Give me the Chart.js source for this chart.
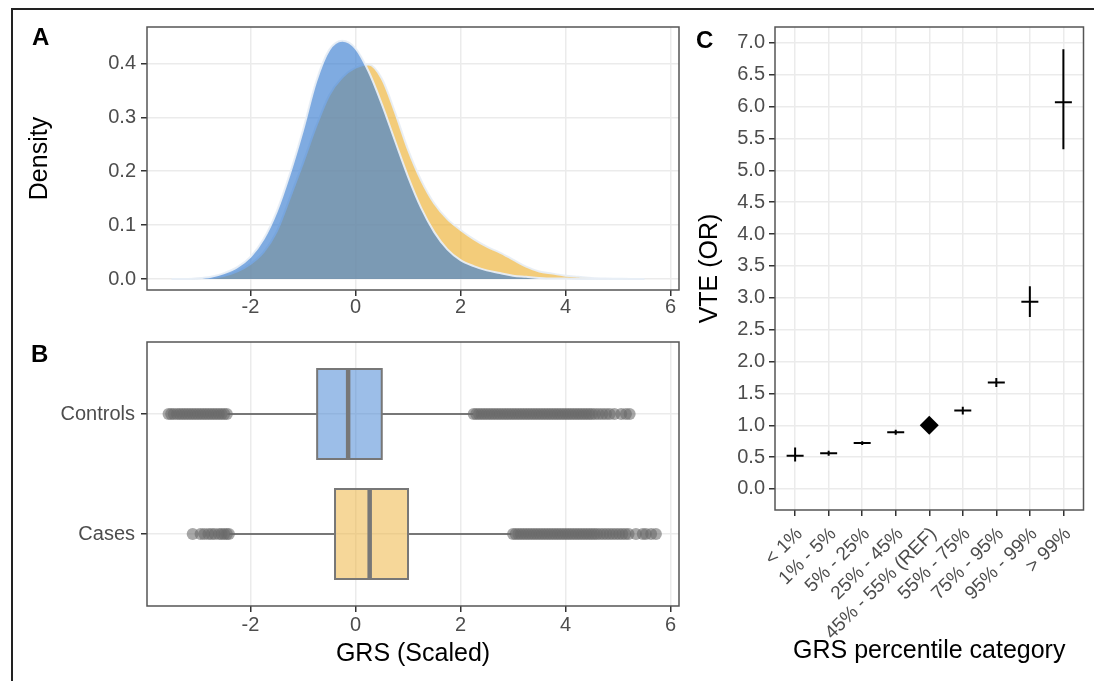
<!DOCTYPE html>
<html>
<head>
<meta charset="utf-8">
<title>GRS and VTE</title>
<script src="https://cdn.jsdelivr.net/npm/chart.js@4.4.1/dist/chart.umd.min.js"></script>
<style>
  body { margin: 0; background: #fff; }
  #fig { position: relative; width: 1094px; height: 681px; overflow: hidden; background: #fff; font-family: "Liberation Sans", Arial, sans-serif; }
  #fig canvas { position: absolute; left: 0; top: 0; }
  .frame { position: absolute; left: 11px; top: 8px; width: 1100px; height: 700px; border-top: 2px solid #222; border-left: 2px solid #222; }
  .tag { position: absolute; font-size: 24px; line-height: 24px; font-weight: bold; color: #000; }
</style>
</head>
<body>
<div id="fig">
  <div class="frame"></div>
  <canvas id="densityChart" width="1094" height="681"></canvas>
  <canvas id="boxChart" width="1094" height="681"></canvas>
  <canvas id="orChart" width="1094" height="681"></canvas>
  <div class="tag" style="left:32px;top:25px">A</div>
  <div class="tag" style="left:31px;top:342px">B</div>
  <div class="tag" style="left:696px;top:28px">C</div>
</div>
<script>
// panel A: density of the scaled GRS
const grsX = [-3.5, -3.25, -3, -2.75, -2.5, -2.25, -2, -1.75, -1.5, -1.25, -1, -0.75, -0.5, -0.25, 0,
  0.25, 0.5, 0.75, 1, 1.25, 1.5, 1.75, 2, 2.25, 2.5, 2.75, 3, 3.25, 3.5, 3.75, 4, 4.25, 4.5, 4.75, 5, 5.25, 5.5];
const controlsDensity = [0, 0, 0.001, 0.004, 0.011, 0.022, 0.041, 0.074, 0.125, 0.195, 0.276, 0.366, 0.425, 0.442, 0.428,
  0.385, 0.325, 0.257, 0.19, 0.132, 0.087, 0.055, 0.035, 0.024, 0.016, 0.011, 0.006, 0.004, 0.002, 0.001, 0.001, 0, 0, 0, 0, 0, 0];
const casesDensity = [0, 0, 0.001, 0.002, 0.006, 0.014, 0.028, 0.05, 0.088, 0.15, 0.215, 0.283, 0.341, 0.374, 0.392,
  0.398, 0.372, 0.31, 0.24, 0.183, 0.14, 0.111, 0.091, 0.074, 0.06, 0.049, 0.036, 0.023, 0.014, 0.01, 0.006, 0.004, 0.002, 0.001, 0.0005, 0, 0];

// panel B: boxplots (Cases on row 1, Controls on row 2)
const groups = ['Cases', 'Controls'];
const boxQ1 = [-0.39, -0.73];
const boxMedian = [0.27, -0.14];
const boxQ3 = [1.0, 0.5];
const whiskerLow = [-2.4, -2.44];
const whiskerHigh = [2.97, 2.24];
const casesOutliers = [-3.1, -2.95, -2.88, -2.8, -2.74, -2.68, -2.6, -2.55, -2.5, -2.45, -2.41,
  3.0, 3.05, 3.1, 3.15, 3.2, 3.25, 3.3, 3.35, 3.4, 3.45, 3.5, 3.55, 3.6, 3.65, 3.7, 3.75, 3.8, 3.85, 3.9, 3.95,
  4.0, 4.05, 4.1, 4.15, 4.2, 4.25, 4.3, 4.35, 4.4, 4.45, 4.5, 4.55, 4.6, 4.66, 4.72, 4.78, 4.84, 4.9, 4.96,
  5.02, 5.08, 5.14, 5.2, 5.34, 5.47, 5.53, 5.63, 5.72];
const controlsOutliers = [-3.56, -3.51, -3.46, -3.4, -3.35, -3.3, -3.25, -3.2, -3.15, -3.1, -3.05, -3.0, -2.95,
  -2.9, -2.85, -2.8, -2.75, -2.7, -2.65, -2.6, -2.55, -2.5, -2.45,
  2.25, 2.3, 2.35, 2.4, 2.45, 2.5, 2.55, 2.6, 2.65, 2.7, 2.75, 2.8, 2.85, 2.9, 2.95, 3.0, 3.05, 3.1, 3.15, 3.2,
  3.25, 3.3, 3.35, 3.4, 3.45, 3.5, 3.55, 3.6, 3.65, 3.7, 3.75, 3.8, 3.85, 3.9, 3.95, 4.0, 4.05, 4.1, 4.15, 4.2,
  4.25, 4.3, 4.35, 4.4, 4.45, 4.5, 4.56, 4.63, 4.7, 4.77, 4.84, 4.93, 5.06, 5.15, 5.22];

// panel C: odds ratios by GRS percentile
const percentileCats = ['< 1%', '1% - 5%', '5% - 25%', '25% - 45%', '45% - 55% (REF)', '55% - 75%', '75% - 95%', '95% - 99%', '> 99%'];
const orEstimate = [0.52, 0.56, 0.72, 0.89, 1.0, 1.23, 1.67, 2.94, 6.07];
const orLower = [0.43, 0.52, 0.69, 0.85, null, 1.17, 1.6, 2.7, 5.33];
const orUpper = [0.65, 0.6, 0.75, 0.93, null, 1.29, 1.74, 3.18, 6.9];
const refIndex = 4;

const BLUE = 'rgba(60,128,210,0.66)';
const ORANGE = 'rgba(237,177,53,0.66)';
const BOX_FILL = ['rgba(237,176,51,0.5)', 'rgba(57,125,209,0.5)'];
const BOX_HALF = 0.375;
const GRAY = '#777';
const FONT = '"Liberation Sans", Arial, sans-serif';

Chart.defaults.font.family = FONT;
Chart.defaults.animation = false;
Chart.defaults.responsive = false;
Chart.defaults.plugins.legend.display = false;
Chart.defaults.plugins.tooltip.enabled = false;

const panelBorder = {
  id: 'panelBorder',
  afterDraw(chart) {
    const { ctx, chartArea: a } = chart;
    ctx.save();
    ctx.strokeStyle = '#555';
    ctx.lineWidth = 1.5;
    ctx.strokeRect(a.left, a.top, a.right - a.left, a.bottom - a.top);
    ctx.restore();
  }
};

const grid = () => ({ color: '#ebebeb', lineWidth: 1.5, tickLength: 6, tickColor: '#333', tickWidth: 1.5 });
const tickStyle = (extra) => Object.assign({ color: '#4d4d4d', font: { size: 20 } }, extra);
const titleStyle = (text, padding) => ({ display: true, text, color: '#000', font: { size: 25 }, padding });

// A
new Chart(document.getElementById('densityChart'), {
  type: 'line',
  data: {
    datasets: [
      {
        label: 'Controls',
        data: grsX.map((x, i) => ({ x, y: controlsDensity[i] })),
        fill: 'origin', backgroundColor: BLUE,
        borderColor: 'rgba(232,238,245,0.95)', borderWidth: 2,
        pointRadius: 0, cubicInterpolationMode: 'monotone'
      },
      {
        label: 'Cases',
        data: grsX.map((x, i) => ({ x, y: casesDensity[i] })),
        fill: 'origin', backgroundColor: ORANGE,
        borderColor: 'rgba(232,238,245,0.95)', borderWidth: 2,
        pointRadius: 0, cubicInterpolationMode: 'monotone'
      }
    ]
  },
  options: {
    layout: { padding: { left: 14, top: 27, right: 1094 - 679, bottom: 681 - 290 - 40 } },
    scales: {
      x: {
        type: 'linear', min: -3.97, max: 6.16,
        border: { display: false }, grid: grid(),
        ticks: tickStyle({ stepSize: 2, includeBounds: false, padding: -1 }),
        afterFit: s => { s.height = 40; }
      },
      y: {
        type: 'linear', min: -0.0204, max: 0.4675,
        border: { display: false }, grid: grid(),
        ticks: tickStyle({ stepSize: 0.1, includeBounds: false, padding: 5, callback: v => v.toFixed(1) }),
        title: titleStyle('Density', { top: 11, bottom: 0 }),
        afterFit: s => { s.width = 147 - 14; }
      }
    }
  },
  plugins: [panelBorder]
});

// B
const boxDraw = {
  id: 'boxDraw',
  afterDatasetsDraw(chart) {
    const { ctx, scales: { x, y } } = chart;
    ctx.save();
    groups.forEach((g, i) => {
      const top = y.getPixelForValue(i + 1 + BOX_HALF);
      const bot = y.getPixelForValue(i + 1 - BOX_HALF);
      const l = x.getPixelForValue(boxQ1[i]);
      const r = x.getPixelForValue(boxQ3[i]);
      ctx.fillStyle = BOX_FILL[i];
      ctx.fillRect(l, top, r - l, bot - top);
      ctx.strokeStyle = GRAY;
      ctx.lineWidth = 2;
      ctx.strokeRect(l, top, r - l, bot - top);
      const m = x.getPixelForValue(boxMedian[i]);
      ctx.lineWidth = 4.5;
      ctx.beginPath();
      ctx.moveTo(m, top);
      ctx.lineTo(m, bot);
      ctx.stroke();
    });
    ctx.restore();
  }
};

const whiskerData = [];
groups.forEach((g, i) => {
  whiskerData.push({ x: whiskerLow[i], y: i + 1 }, { x: boxQ1[i], y: i + 1 }, { x: boxQ1[i], y: null },
    { x: boxQ3[i], y: i + 1 }, { x: whiskerHigh[i], y: i + 1 }, { x: whiskerHigh[i], y: null });
});

const outlierSet = (vals, row) => ({
  data: vals.map(v => ({ x: v, y: row })),
  pointRadius: 6, pointBackgroundColor: 'rgba(105,105,105,0.58)', pointBorderWidth: 0
});

new Chart(document.getElementById('boxChart'), {
  type: 'scatter',
  data: {
    datasets: [
      outlierSet(controlsOutliers, 2),
      outlierSet(casesOutliers, 1),
      { data: whiskerData, showLine: true, spanGaps: false, borderColor: GRAY, borderWidth: 2.2, pointRadius: 0 }
    ]
  },
  options: {
    layout: { padding: { left: 14, top: 342, right: 1094 - 679, bottom: 681 - 606 - 70 } },
    scales: {
      x: {
        type: 'linear', min: -3.97, max: 6.16,
        border: { display: false }, grid: grid(),
        ticks: tickStyle({ stepSize: 2, includeBounds: false, padding: 1 }),
        title: titleStyle('GRS (Scaled)', { top: 0, bottom: 7 }),
        afterFit: s => { s.height = 70; }
      },
      y: {
        type: 'linear', min: 0.4, max: 2.6,
        border: { display: false }, grid: grid(),
        afterBuildTicks: s => { s.ticks = groups.map((g, i) => ({ value: i + 1 })); },
        ticks: tickStyle({ padding: 6, callback: v => groups[v - 1] }),
        afterFit: s => { s.width = 147 - 14; }
      }
    }
  },
  plugins: [boxDraw, panelBorder]
});

// C
const ciData = [];
percentileCats.forEach((c, i) => {
  if (orLower[i] == null) return;
  ciData.push({ x: i, y: orLower[i] }, { x: i, y: orUpper[i] }, { x: i, y: null });
});
const estData = percentileCats.map((c, i) => ({ x: i, y: orEstimate[i] })).filter((p, i) => i !== refIndex);

// category labels at 45 degrees, right end hanging off each tick
const slantLabels = {
  id: 'slantLabels',
  afterDraw(chart) {
    const { ctx, scales: { x } } = chart;
    ctx.save();
    ctx.font = '19px ' + FONT;
    ctx.fillStyle = '#4d4d4d';
    ctx.textAlign = 'right';
    ctx.textBaseline = 'middle';
    percentileCats.forEach((c, i) => {
      ctx.save();
      ctx.translate(x.getPixelForValue(i) + 4.5, x.top + 21);
      ctx.rotate(-Math.PI / 4);
      ctx.fillText(c, 0, 0);
      ctx.restore();
    });
    ctx.restore();
  }
};

new Chart(document.getElementById('orChart'), {
  type: 'scatter',
  data: {
    datasets: [
      { data: [{ x: refIndex, y: orEstimate[refIndex] }], pointStyle: 'rectRot', pointRadius: 9.5, pointBackgroundColor: '#000', pointBorderWidth: 0 },
      { data: estData, pointStyle: 'line', pointRadius: 8.5, pointBorderColor: '#000', pointBorderWidth: 2 },
      { data: ciData, showLine: true, spanGaps: false, borderColor: '#000', borderWidth: 2, pointRadius: 0 }
    ]
  },
  options: {
    layout: { padding: { left: 690, top: 27, right: 1094 - 1085, bottom: 681 - 510 - 166 } },
    scales: {
      x: {
        type: 'linear', min: -0.6, max: 8.6,
        border: { display: false }, grid: grid(),
        afterBuildTicks: s => { s.ticks = percentileCats.map((c, i) => ({ value: i })); },
        ticks: { display: false },
        title: titleStyle('GRS percentile category', { top: 0, bottom: 10 }),
        afterFit: s => { s.height = 166; }
      },
      y: {
        type: 'linear', min: -0.33, max: 7.25,
        border: { display: false }, grid: grid(),
        ticks: tickStyle({ stepSize: 0.5, includeBounds: false, padding: 4, callback: v => v.toFixed(1) }),
        title: titleStyle('VTE (OR)', { top: 5, bottom: 0 }),
        afterFit: s => { s.width = 775 - 690; }
      }
    }
  },
  plugins: [slantLabels, panelBorder]
});
</script>
</body>
</html>
